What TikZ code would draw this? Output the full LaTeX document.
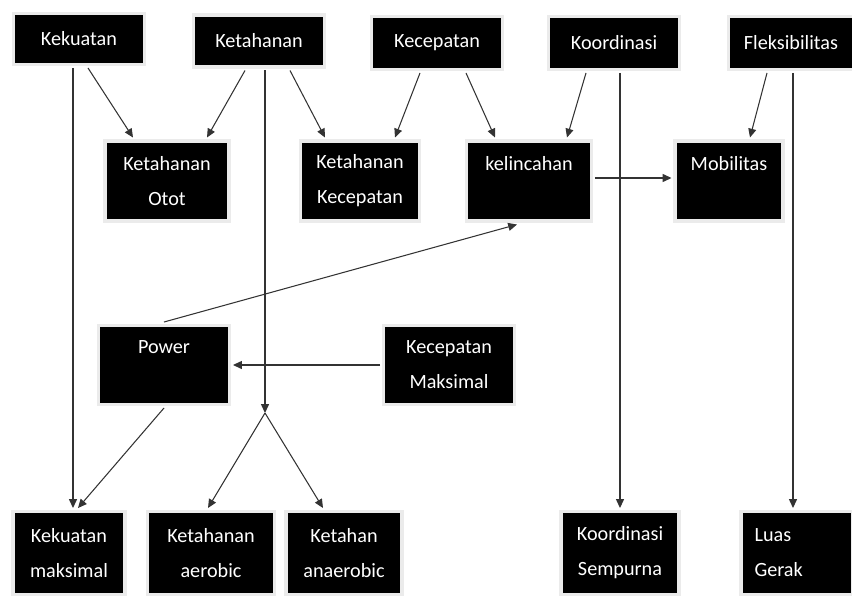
\documentclass[tikz,border=0pt]{standalone}
\usepackage{fontspec}
\setmainfont{Carlito}
\usetikzlibrary{calc, arrows.meta}

\begin{document}
\begin{tikzpicture}[x=0.02cm, y=-0.02cm,
        box/.style={rectangle, fill=black, text=white, align=center, inner sep=0pt, outer sep=0.1cm,
            font=\fontsize{11.5}{20}\selectfont, preaction={draw=black!8, line width=0.14cm}},
        arr/.style={-{Triangle[length=5pt, width=4.5pt]}, draw=black!80, line width=0.6pt},
        ]
    \useasboundingbox (0, 0) rectangle (852, 598);

    % top row
    \node (kek) at (79, 39) [box, minimum width=2.56cm, minimum height=0.96cm] {Kekuatan};
    \node (ket) at (259, 41) [box, minimum width=2.56cm, minimum height=0.98cm] {Ketahanan};
    \node (kec) at (437, 43) [box, minimum width=2.56cm, minimum height=1cm] {Kecepatan};
    \node (koo) at (614, 43) [box, minimum width=2.56cm, minimum height=1cm] {Koordinasi};
    \node (fle) at (791, 43) [box, minimum width=2.44cm, minimum height=1cm] {Fleksibilitas};

    \node (oto) at (167, 181) [box, minimum width=2.42cm, minimum height=1.54cm] {Ketahanan\\Otot};
    \node (kkc) at (360, 181) [box, minimum width=2.32cm, minimum height=1.54cm] {Ketahanan\\Kecepatan};
    \node (lin) at (529, 181) [box, minimum width=2.44cm, minimum height=1.54cm] {kelincahan\\~};
    \node (mob) at (729, 181) [box, minimum width=2.1cm, minimum height=1.54cm] {Mobilitas\\~};

    \node (pow) at (164, 365) [box, minimum width=2.56cm, minimum height=1.52cm] {Power\\~};
    \node (kmx) at (449, 365) [box, minimum width=2.56cm, minimum height=1.52cm] {Kecepatan\\Maksimal};

    % bottom row
    \node (kma) at (69, 553) [box, minimum width=2.18cm, minimum height=1.6cm] {Kekuatan\\maksimal};
    \node (aer) at (211, 553) [box, minimum width=2.48cm, minimum height=1.6cm] {Ketahanan\\aerobic};
    \node (ana) at (344, 553) [box, minimum width=2.26cm, minimum height=1.6cm] {Ketahan\\anaerobic};
    \node (kse) at (620, 553) [box, minimum width=2.3cm, minimum height=1.6cm] {Koordinasi\\Sempurna};
    \node (lua) at (797, 553) [box, minimum width=2.18cm, minimum height=1.6cm, text width=1.7cm, align=left] {Luas\\Gerak};

    \coordinate (split) at (265, 413);

    \draw [arr] ($(kek.south)+(9, 0)$) -- ($(oto.north)+(-34, 0)$);
    \draw [arr] ($(kek.south)+(-6, 0)$) coordinate (k1) -- (k1 |- kma.north);
    \draw [arr] ($(ket.south)+(-14, 0)$) -- ($(oto.north)+(40, 0)$);
    \draw [arr] ($(ket.south)+(6, 0)$) -- (split);
    \draw [arr] ($(ket.south)+(31, 0)$) -- ($(kkc.north)+(-35, 0)$);
    \draw [arr] (split) -- ($(aer.north)+(-3, 0)$);
    \draw [arr] (split) -- ($(ana.north)+(-21, 0)$);

    \draw [arr] ($(kec.south)+(-17, 0)$) -- ($(kkc.north)+(35, 0)$);
    \draw [arr] ($(kec.south)+(29, 0)$) -- ($(lin.north)+(-34, 0)$);
    \draw [arr] ($(koo.south)+(-28, 0)$) -- ($(lin.north)+(38, 0)$);
    \draw [arr] ($(koo.south)+(6, 0)$) coordinate (k3) -- (k3 |- kse.north);
    \draw [arr] ($(fle.south)+(-24, 0)$) -- ($(mob.north)+(21, 0)$);
    \draw [arr] ($(fle.south)+(2, 0)$) coordinate (k4) -- (k4 |- lua.north);

    \draw [arr] ($(lin.east)+(0, -3)$) coordinate (k5) -- (k5 -| mob.west);
    \draw [arr] (pow.north) -- ($(lin.south)+(-12, 0)$);
    \draw [arr] (kmx.west) -- (pow.east);
    \draw [arr] (pow.south) -- ($(kma.north)+(9, 0)$);
\end{tikzpicture}
\end{document}
